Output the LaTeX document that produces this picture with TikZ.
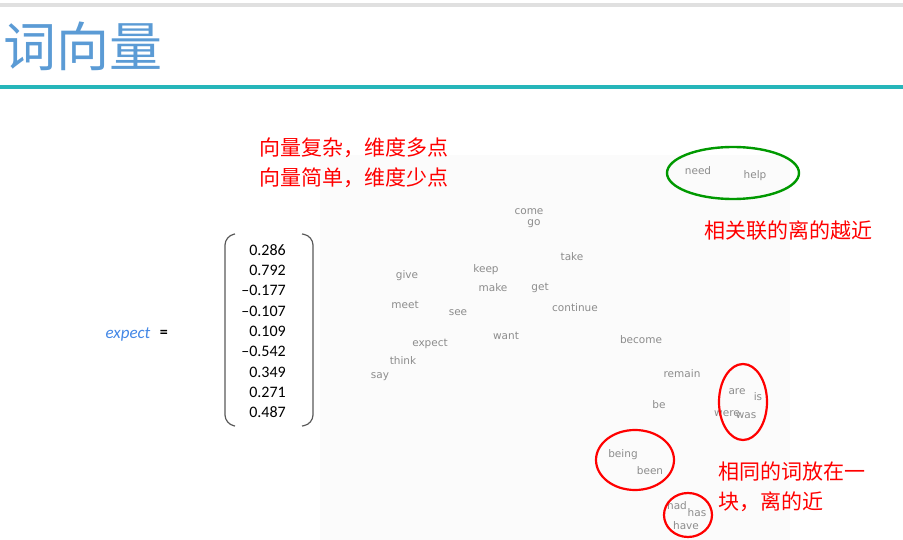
\documentclass[tikz,border=0pt]{standalone}
\usepackage{fontspec}
\setmainfont{Carlito}
\newfontfamily\cjk{Noto Sans CJK SC}
\newfontfamily\plotfont{DejaVu Sans}
\usepackage{tikz}
\usetikzlibrary{positioning, shapes.geometric}

\definecolor{titleblue}{RGB}{91,155,213}
\definecolor{rulecyan}{RGB}{38,182,186}
\definecolor{wordgray}{RGB}{140,140,140}
\definecolor{expblue}{RGB}{68,136,230}

\begin{document}
\begin{tikzpicture}[
  x=1pt, y=-1pt,
  word/.style={font=\plotfont\fontsize{10.5}{12}\selectfont, text=wordgray, inner sep=0pt},
  note/.style={font=\cjk\fontsize{21}{30}\selectfont, text=red, align=left, inner sep=0pt, anchor=west},
  loop/.style={draw=red, line width=2.2pt, ellipse, inner sep=0pt},
  paren/.style={draw=black!65, line width=1.2pt, rounded corners=9pt}
]
\useasboundingbox (0,0) rectangle (903,540);

% header
\fill[black!12] (0,3) rectangle (903,7);
\node[font=\cjk\fontsize{53}{56}\selectfont, text=titleblue, anchor=west, inner sep=0pt] (title) at (3,46) {词向量};
\fill[rulecyan] (0,85) rectangle (903,89);

% plot area
\fill[black!1.5] (320,155) rectangle (790,540);

% vector on the left
\node[font=\itshape\fontsize{17}{18}\selectfont, text=expblue, inner sep=0pt] (expect) at (128,334) {expect};
\node[font=\bfseries\fontsize{16}{18}\selectfont, inner sep=0pt, right=9pt of expect] (eq) {=};
\node[font=\fontsize{16}{20.3}\selectfont, align=right, inner sep=0pt, anchor=east] (vec) at (286,331)
  {0.286\\0.792\\–0.177\\–0.107\\0.109\\–0.542\\0.349\\0.271\\0.487};
\draw[paren] (235,234) -- (225,236) -- (225,424) -- (235,426);
\draw[paren] (302,234) -- (313,236) -- (313,424) -- (302,426);

% words
\foreach \nm/\x/\y in {need/698/172, help/755/176, come/529/212, go/534/223,
  take/572/258, give/407/276, keep/486/270, make/493/289, get/540/288,
  meet/405/306, see/458/313, continue/575/309, want/506/337, expect/430/344,
  become/641/341, think/403/362, say/380/376, remain/682/375, are/737/392,
  is/758/398, be/659/406, were/727/414, was/746/416, being/623/455,
  been/650/472, had/677/507, has/697/514, have/686/527}
  \node[word] (w-\nm) at (\x,\y) {\strut\nm};

% groupings
\node[draw=green!60!black, line width=2.4pt, ellipse, minimum width=132pt, minimum height=52pt] (related) at (733,173) {};
\node[loop, minimum width=48pt, minimum height=76pt] (beloop) at (743,402) {};
\node[loop, minimum width=78pt, minimum height=60pt] (beingloop) at (635,460) {};
\node[loop, minimum width=48pt, minimum height=44pt] (haveloop) at (688,515) {};

% notes
\node[note] (dims) at (259,162.5) {向量复杂，维度多点\\向量简单，维度少点};
\node[note] (close) at (704,231) {相关联的离的越近};
\node[note] (same) at (718,487) {相同的词放在一\\块，离的近};

\end{tikzpicture}
\end{document}
